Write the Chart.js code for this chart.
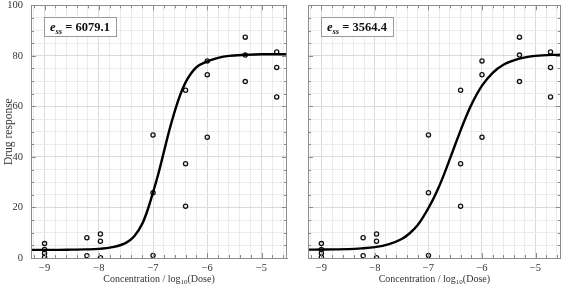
<!DOCTYPE html>
<html><head><meta charset="utf-8">
<script src="https://cdn.jsdelivr.net/npm/chart.js@4.4.1/dist/chart.umd.min.js"></script>
<style>
html,body{margin:0;padding:0;background:#fff;}
#wrap{position:relative;width:566px;height:285px;overflow:hidden;}
canvas{position:absolute;top:0;}
</style>
</head><body>
<div id="wrap">
<canvas id="c1" width="295" height="285" style="left:0;width:295px;height:285px"></canvas>
<canvas id="c2" width="271" height="285" style="left:295px;width:271px;height:285px"></canvas>
</div>
<script>
// ---- data ----
const doseX = [-9,-9,-9,-9,-8.22,-8.22,-7.97,-7.97,-7.97,-7,-7,-7,-6.4,-6.4,-6.4,-6,-6,-6,-5.3,-5.3,-5.3,-4.72,-4.72,-4.72];
const responseY = [5.7,3.4,1.9,0.3,8.0,0.9,9.5,6.6,0.1,48.7,25.8,1.0,66.4,37.3,20.5,78.0,72.5,47.8,87.4,80.3,69.8,81.5,75.4,63.7];
const fitX = [-9.25,-9,-8.75,-8.5,-8.25,-8,-7.75,-7.5,-7.35,-7.2,-7.1,-7,-6.9,-6.8,-6.7,-6.6,-6.5,-6.4,-6.3,-6.2,-6,-5.8,-5.6,-5.3,-5,-4.53];
const fitLeftY = [3.2,3.2,3.2,3.3,3.4,3.6,4.3,6.0,8.5,13.5,19,26,33.5,42,50.5,58,64.5,69.5,73,75.5,77.8,79.2,80,80.4,80.6,80.6];
const fitRightY = [3.3,3.35,3.4,3.5,3.8,4.3,5.4,7.5,9.8,13.1,16.2,19.8,23.8,28.4,33.6,39.2,44.9,50.5,55.8,60.6,68.2,73.3,76.5,78.9,80.0,80.5];
const essValues = ['6079.1','3564.4'];
const xTickLabels = [-9,-8,-7,-6,-5];
const yTickLabels = [0,20,40,60,80,100];
const xRange = [-9.25,-4.53];
const yRange = [0,100];
const xMinorStep = 0.2, yMinorStep = 5;

const FONT = '"Liberation Serif","Times New Roman",serif';
const xGrid = [];
for (let v = Math.ceil(xRange[0]/xMinorStep)*xMinorStep; v <= xRange[1]+1e-9; v += xMinorStep) xGrid.push(Math.round(v*10)/10);
const yGrid = [];
for (let v = yRange[0]; v <= yRange[1]+1e-9; v += yMinorStep) yGrid.push(v);
const isMajorX = v => xTickLabels.some(t => Math.abs(t - v) < 1e-6);
const isMajorY = v => yTickLabels.some(t => Math.abs(t - v) < 1e-6);
const fmt = v => (v < 0 ? '\u2212' : '') + Math.abs(v);

function pts(xs, ys){ return xs.map((x,i)=>({x:x, y:ys[i]})); }

function framePlugin(idx, showYTitle){
  return {
    id:'frame'+idx,
    afterDraw(chart){
      const ctx = chart.ctx, a = chart.chartArea;
      const xs = chart.scales.x, ys = chart.scales.y;
      ctx.save();
      ctx.strokeStyle = '#8c8c8c'; ctx.lineWidth = 1;
      ctx.strokeRect(Math.round(a.left)+0.5, Math.round(a.top)+0.5, Math.round(a.right-a.left)-1, Math.round(a.bottom-a.top));
      ctx.beginPath();
      xGrid.forEach(v=>{
        const p = Math.round(xs.getPixelForValue(v))+0.5, L = isMajorX(v)?5:3;
        ctx.moveTo(p, a.top); ctx.lineTo(p, a.top+L);
        ctx.moveTo(p, a.bottom); ctx.lineTo(p, a.bottom-L);
      });
      yGrid.forEach(v=>{
        const p = Math.round(ys.getPixelForValue(v))+0.5, L = isMajorY(v)?5:3;
        ctx.moveTo(a.left, p); ctx.lineTo(a.left+L, p);
        ctx.moveTo(a.right, p); ctx.lineTo(a.right-L, p);
      });
      ctx.stroke();
      // e_ss label box
      const big = 'bold 12.5px '+FONT, bigI = 'italic bold 12.5px '+FONT, sub = 'italic bold 8.5px '+FONT;
      ctx.font = bigI; const w1 = ctx.measureText('e').width;
      ctx.font = sub; const w2 = ctx.measureText('ss').width;
      const rest = ' = '+essValues[idx];
      ctx.font = big; const w3 = ctx.measureText(rest).width;
      const bx = a.left+13, by = a.top+12, bw = w1+w2+w3+12, bh = 19;
      ctx.fillStyle = '#fff'; ctx.fillRect(bx, by, bw, bh);
      ctx.strokeStyle = '#9a9a9a'; ctx.strokeRect(Math.round(bx)+0.5, Math.round(by)+0.5, Math.round(bw), bh);
      ctx.fillStyle = '#111'; ctx.textBaseline = 'alphabetic'; ctx.textAlign = 'left';
      let tx = bx+6; const base = by+14;
      ctx.font = bigI; ctx.fillText('e', tx, base); tx += w1;
      ctx.font = sub; ctx.fillText('ss', tx, base+2.5); tx += w2;
      ctx.font = big; ctx.fillText(rest, tx, base);
      // x axis title with subscript
      const tf = '10px '+FONT, tfs = '7px '+FONT;
      const p1 = 'Concentration / log', p2 = '10', p3 = '(Dose)';
      ctx.font = tf; const q1 = ctx.measureText(p1).width, q3 = ctx.measureText(p3).width;
      ctx.font = tfs; const q2 = ctx.measureText(p2).width;
      let sx = (a.left+a.right)/2 - (q1+q2+q3)/2; const sy = 282;
      ctx.fillStyle = '#333';
      ctx.font = tf; ctx.fillText(p1, sx, sy); sx += q1;
      ctx.font = tfs; ctx.fillText(p2, sx, sy+2); sx += q2;
      ctx.font = tf; ctx.fillText(p3, sx, sy);
      if (showYTitle){
        ctx.translate(9, (a.top+a.bottom)/2);
        ctx.rotate(-Math.PI/2);
        ctx.textAlign = 'center'; ctx.textBaseline = 'middle';
        ctx.font = '11.5px '+FONT;
        ctx.fillText('Drug response', 0, 0);
      }
      ctx.restore();
    }
  };
}

function makeChart(id, idx, fitY, leftW, rightPad, showYLabels){
  return new Chart(document.getElementById(id), {
    type:'scatter',
    data:{ datasets:[
      { label:'fit', data:pts(fitX, fitY), showLine:true, borderColor:'#000', borderWidth:2.4,
        pointRadius:0, cubicInterpolationMode:'monotone', fill:false, order:0 },
      { label:'data', data:pts(doseX, responseY), showLine:false, pointStyle:'circle', pointRadius:2.1,
        borderWidth:1.3, pointBorderColor:'#111', pointBackgroundColor:'rgba(255,255,255,0)', order:1 }
    ]},
    options:{
      responsive:false, animation:false, devicePixelRatio:1,
      layout:{ padding:{ top:2, right:rightPad, left:0, bottom:0 } },
      plugins:{ legend:{display:false}, tooltip:{enabled:false} },
      scales:{
        x:{ type:'linear', min:xRange[0], max:xRange[1],
          afterBuildTicks: s => { s.ticks = xGrid.map(v=>({value:v})); },
          afterFit: s => { s.height = 27; s.paddingLeft = 0; s.paddingRight = 0; },
          ticks:{ autoSkip:false, maxRotation:0, padding:4, color:'#333',
            font:{ family:FONT, size:10.5 },
            callback: v => isMajorX(v) ? fmt(Math.round(v)) : '' },
          grid:{ drawTicks:false, color: c => (c.tick && isMajorX(c.tick.value)) ? '#dadada' : '#ebebeb', lineWidth:1 },
          border:{ display:true, color:'#8c8c8c' }
        },
        y:{ type:'linear', min:yRange[0], max:yRange[1],
          afterBuildTicks: s => { s.ticks = yGrid.map(v=>({value:v})); },
          afterFit: s => { s.width = leftW; s.paddingTop = 0; s.paddingBottom = 0; },
          ticks:{ display:showYLabels, autoSkip:false, padding:8, color:'#333',
            font:{ family:FONT, size:10.5 },
            callback: v => isMajorY(v) ? String(v) : '' },
          grid:{ drawTicks:false, color: c => (c.tick && isMajorY(c.tick.value)) ? '#dadada' : '#ebebeb', lineWidth:1 },
          border:{ display:true, color:'#8c8c8c' }
        }
      }
    },
    plugins:[framePlugin(idx, showYLabels)]
  });
}

makeChart('c1', 0, fitLeftY, 31, 8, true);
makeChart('c2', 1, fitRightY, 13, 3, false);
</script>
</body></html>
